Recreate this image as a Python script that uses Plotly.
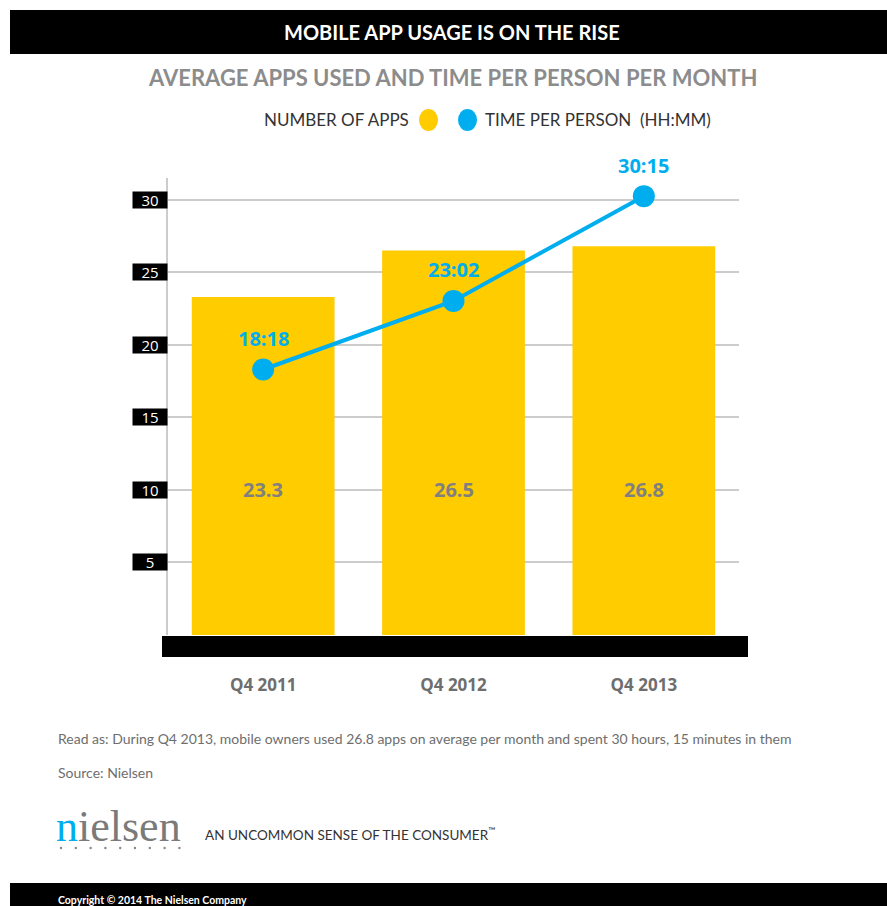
import plotly.graph_objects as go

categories = ["Q4 2011", "Q4 2012", "Q4 2013"]
apps = [23.3, 26.5, 26.8]
time_hours = [18.3, 23.03, 30.25]
time_labels = ["18:18", "23:02", "30:15"]
y_ticks = [5, 10, 15, 20, 25, 30]

YELLOW = "#ffcc00"
BLUE = "#00aeef"
GRAY = "#808080"

W, H = 887, 906
L, R = 168, 739
T, B = 178, 635


def px(x):
    return (x - L) / (R - L)


def py(y):
    return (B - y) / (B - T)


def txt(x, y, text, size, color, family="Lato", xanchor="left"):
    return dict(x=px(x), y=py(y), xref="paper", yref="paper", showarrow=False,
                xanchor=xanchor, yanchor="middle", text=text,
                font=dict(family=family, size=size, color=color))


fig = go.Figure()
fig.add_trace(go.Bar(x=categories, y=apps, marker=dict(color=YELLOW, line=dict(width=0)),
                     width=0.75, name="NUMBER OF APPS", showlegend=False, hoverinfo="y"))
fig.add_trace(go.Scatter(x=categories, y=time_hours, mode="lines+markers",
                         line=dict(color=BLUE, width=4),
                         marker=dict(color=BLUE, size=22),
                         name="TIME PER PERSON (HH:MM)", showlegend=False))

annotations = []
for c, v in zip(categories, apps):
    annotations.append(dict(x=c, y=10, xref="x", yref="y", text=f"<b>{v}</b>", showarrow=False,
                            yanchor="middle",
                            font=dict(family="Open Sans", size=20, color=GRAY)))
for c, v, lab in zip(categories, time_hours, time_labels):
    annotations.append(dict(x=c, y=v, xref="x", yref="y", text=f"<b>{lab}</b>", showarrow=False,
                            yanchor="middle", yshift=31,
                            font=dict(family="Open Sans", size=20, color=BLUE)))
for t in y_ticks:
    annotations.append(dict(x=px(168), y=t, xref="paper", yref="y", text=str(t), showarrow=False,
                            xanchor="right", yanchor="middle", align="center",
                            bgcolor="black", width=32, height=14, borderpad=1,
                            font=dict(family="Open Sans", size=15, color="white")))

# Titles
annotations.append(txt(452, 32, "<b>MOBILE APP USAGE IS ON THE RISE</b>", 20, "white", xanchor="center"))
annotations.append(txt(452, 77, "<b>AVERAGE APPS USED AND TIME PER PERSON PER MONTH</b>", 22, "#8c8c8c",
                       xanchor="center"))
# Legend
annotations.append(txt(411, 120, "NUMBER OF APPS", 17, "#333333", xanchor="right"))
annotations.append(txt(483, 120, "TIME PER PERSON  (HH:MM)", 17, "#333333"))
# Footer texts
annotations.append(txt(56, 738,
                       "Read as: During Q4 2013, mobile owners used 26.8 apps on average per month and spent 30 hours, 15 minutes in them",
                       14, "#6e6e6e"))
annotations.append(txt(56, 772, "Source: Nielsen", 14, "#6e6e6e"))
annotations.append(txt(54, 826, f"<span style='color:{BLUE}'>n</span>ielsen", 44, "#7a7a7a",
                       family="Liberation Serif"))
annotations.append(txt(203, 834, "AN UNCOMMON SENSE OF THE CONSUMER<sup>™</sup>", 13.5, "#333333"))
annotations.append(txt(56, 900, "<b>Copyright © 2014 The Nielsen Company</b>", 10.5, "white"))

shapes = [
    dict(type="rect", xref="paper", yref="paper", x0=px(10), x1=px(887), y0=py(54), y1=py(10),
         fillcolor="black", line=dict(width=0), layer="below"),
    dict(type="rect", xref="paper", yref="paper", x0=px(10), x1=px(887), y0=py(910), y1=py(883),
         fillcolor="black", line=dict(width=0), layer="below"),
    dict(type="rect", xref="paper", yref="paper", x0=px(162), x1=px(748), y0=py(657), y1=py(636),
         fillcolor="black", line=dict(width=0), layer="above"),
    dict(type="circle", xref="paper", yref="paper", x0=px(419), x1=px(438), y0=py(131), y1=py(109),
         fillcolor=YELLOW, line=dict(width=0)),
    dict(type="circle", xref="paper", yref="paper", x0=px(458), x1=px(477), y0=py(131), y1=py(109),
         fillcolor=BLUE, line=dict(width=0)),
]
# logo dot row
for i in range(9):
    cx = 61 + i * 14.8
    shapes.append(dict(type="circle", xref="paper", yref="paper",
                       x0=px(cx - 1.2), x1=px(cx + 1.2), y0=py(849.2), y1=py(846.8),
                       fillcolor="#888888", line=dict(width=0)))

fig.update_layout(
    width=W, height=H,
    margin=dict(l=L, r=W - R, t=T, b=H - B, pad=0),
    paper_bgcolor="white", plot_bgcolor="white",
    showlegend=False,
    annotations=annotations, shapes=shapes,
    xaxis=dict(range=[-0.5, 2.5], showgrid=False, zeroline=False, showline=False,
               ticks="", tickfont=dict(family="Open Sans", size=17, color="#6e6e6e"),
               ticklabelstandoff=38, tickvals=categories,
               ticktext=[f"<b>{c}</b>" for c in categories]),
    yaxis=dict(range=[0, 31.5], tickvals=y_ticks, showticklabels=False,
               showgrid=True, gridcolor="#cccccc", gridwidth=1.5,
               zeroline=False, showline=True, linecolor="#cccccc", linewidth=1.5, ticks=""),
    bargap=0.25,
)

fig.write_html("out.html")
